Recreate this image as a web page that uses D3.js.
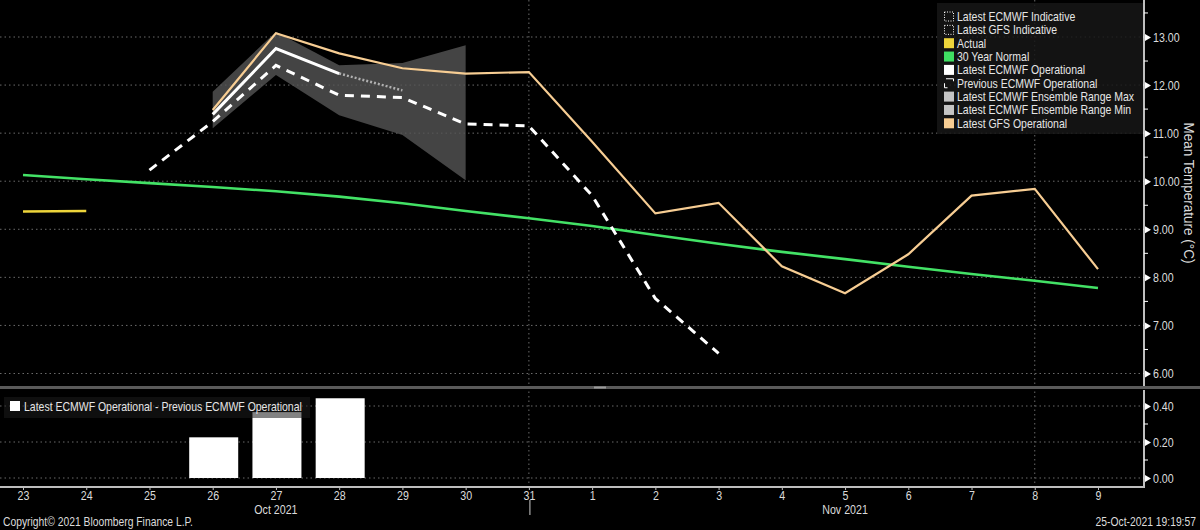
<!DOCTYPE html>
<html>
<head>
<meta charset="utf-8">
<script src="https://cdn.jsdelivr.net/npm/d3@7"></script>
<style>
  html, body { margin: 0; padding: 0; background: #000; }
  svg { display: block; font-family: "Liberation Sans", Arial, sans-serif; }
</style>
</head>
<body>
<svg id="chart" width="1200" height="530"></svg>
<script>
// ---------------- DATA ----------------
const days = ["23","24","25","26","27","28","29","30","31","1","2","3","4","5","6","7","8","9"];
const actual          = [9.37, 9.38, null, null, null, null, null, null, null, null, null, null, null, null, null, null, null, null];
const normal30        = [10.13, 10.04, 9.96, 9.88, 9.79, 9.68, 9.54, 9.38, 9.23, 9.07, 8.88, 8.70, 8.53, 8.38, 8.22, 8.07, 7.93, 7.78];
const ecmwfLatest     = [null, null, null, 11.39, 12.76, 12.24, null, null, null, null, null, null, null, null, null, null, null, null];
const ecmwfIndicative = [null, null, null, null, null, 12.24, 11.89, null, null, null, null, null, null, null, null, null, null, null];
const ecmwfPrevious   = [null, null, 10.23, 11.24, 12.41, 11.79, 11.74, 11.19, 11.15, 9.70, 7.56, 6.42, null, null, null, null, null, null];
const ensembleMax     = [null, null, null, 11.86, 13.11, 12.41, 12.46, 12.83, null, null, null, null, null, null, null, null, null, null];
const ensembleMin     = [null, null, null, 11.10, 12.21, 11.37, 10.96, 10.02, null, null, null, null, null, null, null, null, null, null];
const gfsLatest       = [null, null, null, 11.48, 13.08, 12.66, 12.35, 12.24, 12.27, 10.82, 9.33, 9.55, 8.23, 7.67, 8.48, 9.70, 9.84, 8.17];
const ecmwfDiff       = [null, null, null, 0.226, 0.366, 0.443, null, null, null, null, null, null, null, null, null, null, null, null];

const tempTicks  = [6, 7, 8, 9, 10, 11, 12, 13];
const tempMinor  = [6.5, 7.5, 8.5, 9.5, 10.5, 11.5, 12.5, 13.5];
const diffTicks  = [0, 0.2, 0.4];
const diffMinor  = [0.1, 0.3];
const vGridDays  = ["31", "8"];
const months     = [{label: "Oct 2021", at: "27"}, {label: "Nov 2021", at: "5"}];

const legendNames = ["Latest ECMWF Indicative", "Latest GFS Indicative", "Actual", "30 Year Normal",
  "Latest ECMWF Operational", "Previous ECMWF Operational", "Latest ECMWF Ensemble Range Max",
  "Latest ECMWF Ensemble Range Min", "Latest GFS Operational"];
const legendKinds = ["dotted", "dotted", "fill", "fill", "fill", "dashed", "fill", "fill", "fill"];
const legendColors = ["#ffffff", "#ffffff", "#eed53b", "#3fdf62", "#ffffff", "#ffffff", "#c4c4c4", "#c4c4c4", "#f7cd93"];

// ---------------- LAYOUT ----------------
const svg = d3.select("#chart");
const W = 1200, H = 530;
const axisX = 1144;
const topY0 = 0, topY1 = 386;
const botY0 = 390, botY1 = 487;
const FS = 13;
const NARROW = 0.82;

// squeeze text horizontally (about its anchor) to mimic the narrow terminal font
function condense(sel, ratio) {
  sel.each(function() {
    const X = +(this.getAttribute("x") || 0);
    const prev = this.getAttribute("transform") || "";
    d3.select(this).attr("transform", `${prev} translate(${X},0) scale(${ratio},1) translate(${-X},0)`.trim());
  });
}

svg.append("rect").attr("width", W).attr("height", H).attr("fill", "#000");

const x = d3.scalePoint().domain(days).range([23, 1098]);
const yT = d3.scaleLinear().domain([6, 13]).range([373.5, 37]);
const yB = d3.scaleLinear().domain([0, 0.4]).range([478, 406]);

function series(arr) { return arr.map((v, i) => ({d: days[i], v})); }

// ---------- gridlines ----------
const grid = svg.append("g");
grid.selectAll(".hgT").data(tempTicks).join("line")
  .attr("x1", 0).attr("x2", axisX).attr("y1", d => yT(d)).attr("y2", d => yT(d))
  .attr("stroke", "#6a6a6a").attr("stroke-width", 1).attr("stroke-dasharray", "1.5,3");
grid.selectAll(".hgB").data(diffTicks).join("line")
  .attr("x1", 0).attr("x2", axisX).attr("y1", d => yB(d)).attr("y2", d => yB(d))
  .attr("stroke", "#6a6a6a").attr("stroke-width", 1).attr("stroke-dasharray", "1.5,3");
grid.selectAll(".vg").data(vGridDays).join("line")
  .attr("x1", d => x(d)).attr("x2", d => x(d)).attr("y1", 0).attr("y2", botY1)
  .attr("stroke", "#6a6a6a").attr("stroke-width", 1).attr("stroke-dasharray", "1.5,3");

// ---------- top panel marks ----------
const topG = svg.append("g");
const area = d3.area()
  .defined(d => d.hi != null && d.lo != null)
  .x(d => x(d.d)).y0(d => yT(d.lo)).y1(d => yT(d.hi));
topG.append("path")
  .datum(days.map((d, i) => ({d, hi: ensembleMax[i], lo: ensembleMin[i]})))
  .attr("d", area).attr("fill", "#555555").attr("fill-opacity", 0.8);

const line = d3.line().defined(d => d.v != null).x(d => x(d.d)).y(d => yT(d.v));
function drawLine(arr, color, width, dash) {
  topG.append("path").datum(series(arr)).attr("d", line)
    .attr("fill", "none").attr("stroke", color).attr("stroke-width", width)
    .attr("stroke-dasharray", dash || null).attr("stroke-linejoin", "miter");
}
drawLine(normal30, "#43e266", 2.6);
drawLine(actual, "#eed53b", 2.5);
drawLine(ecmwfPrevious, "#ffffff", 3, "9,7");
drawLine(ecmwfIndicative, "#b0b0b0", 2.5, "2,2");
drawLine(ecmwfLatest, "#ffffff", 3);
drawLine(gfsLatest, "#f7cd93", 2.2);

// ---------- bottom panel bars ----------
const barW = 49;
svg.append("g").selectAll("rect").data(series(ecmwfDiff).filter(d => d.v != null)).join("rect")
  .attr("x", d => x(d.d) - barW / 2 + 1).attr("width", barW)
  .attr("y", d => yB(d.v)).attr("height", d => yB(0) - yB(d.v))
  .attr("fill", "#ffffff");

// ---------- panel divider ----------
svg.append("rect").attr("x", 0).attr("y", topY1).attr("width", W).attr("height", 3).attr("fill", "#5a5a5a");
svg.append("rect").attr("x", 594).attr("y", topY1 + 0.5).attr("width", 12).attr("height", 2).attr("fill", "#9a9a9a");

// ---------- right axes ----------
function rightAxis(scale, ticks, minor, fmt, yA, yB2) {
  const g = svg.append("g").attr("transform", `translate(${axisX},0)`);
  const ax = d3.axisRight(scale).tickValues(ticks).tickFormat(fmt).tickSize(0).tickPadding(9);
  g.call(ax);
  g.select(".domain").remove();
  g.selectAll("text").attr("fill", "#dcdcdc").attr("font-size", FS).attr("font-family", null);
  condense(g.selectAll("text"), NARROW);
  g.selectAll(".tick").append("path").attr("d", "M1,-3.5L7,0L1,3.5Z").attr("fill", "#ffffff");
  g.selectAll(".mt").data(minor).join("line")
    .attr("x1", 0).attr("x2", 4).attr("y1", d => scale(d)).attr("y2", d => scale(d))
    .attr("stroke", "#ffffff").attr("stroke-width", 1);
  g.append("line").attr("x1", 0).attr("x2", 0).attr("y1", yA).attr("y2", yB2)
    .attr("stroke", "#ffffff").attr("stroke-width", 1.5);
}
rightAxis(yT, tempTicks, tempMinor, d3.format(".2f"), topY0, topY1);
rightAxis(yB, diffTicks, diffMinor, d3.format(".2f"), botY0, botY1 + 1);

svg.append("text")
  .attr("transform", `translate(1184,193) rotate(90) scale(0.9,1)`)
  .attr("text-anchor", "middle").attr("fill", "#dcdcdc").attr("font-size", 15)
  .text("Mean Temperature (°C)");

// ---------- x axis ----------
const xg = svg.append("g").attr("transform", `translate(0,${botY1})`);
xg.call(d3.axisBottom(x).tickSize(3).tickPadding(1));
xg.select(".domain").remove();
xg.append("line").attr("x1", 0).attr("x2", axisX).attr("y1", 0).attr("y2", 0)
  .attr("stroke", "#bdbdbd").attr("stroke-width", 2);
xg.selectAll(".tick line").attr("stroke", "#bdbdbd");
xg.selectAll("text").attr("fill", "#dcdcdc").attr("font-size", FS).attr("font-family", null);
condense(xg.selectAll("text"), NARROW);

svg.selectAll(".month").data(months).join("text")
  .attr("x", d => x(d.at)).attr("y", 514).attr("text-anchor", "middle")
  .attr("fill", "#dcdcdc").attr("font-size", FS).text(d => d.label)
  .call(condense, NARROW);
svg.append("line").attr("x1", x("31") + 1).attr("x2", x("31") + 1).attr("y1", 500).attr("y2", 515)
  .attr("stroke", "#8a8a8a").attr("stroke-width", 1.5);

svg.append("text").attr("x", 3).attr("y", 526).attr("fill", "#dcdcdc").attr("font-size", 12.6)
  .text("Copyright© 2021 Bloomberg Finance L.P.").call(condense, NARROW);
svg.append("text").attr("x", 1196).attr("y", 526).attr("text-anchor", "end").attr("fill", "#dcdcdc").attr("font-size", 12.6)
  .text("25-Oct-2021 19:19:57").call(condense, NARROW);

// ---------- top legend ----------
const lg = svg.append("g");
lg.append("rect").attr("x", 937).attr("y", 3).attr("width", 206).attr("height", 131)
  .attr("fill", "#161616").attr("fill-opacity", 0.85);
const rowY = i => 16.5 + i * 13.35;
legendNames.forEach((name, i) => {
  const cy = rowY(i);
  const k = legendKinds[i];
  if (k === "fill") {
    lg.append("rect").attr("x", 944).attr("y", cy - 5).attr("width", 10).attr("height", 10).attr("fill", legendColors[i]);
  } else if (k === "dotted") {
    lg.append("rect").attr("x", 944.5).attr("y", cy - 4.5).attr("width", 9).attr("height", 9)
      .attr("fill", "none").attr("stroke", "#ffffff").attr("stroke-width", 1).attr("stroke-dasharray", "1,1.5");
  } else {
    lg.append("path").attr("d", `M946,${cy - 4.5}H953.5V${cy - 2}M944.5,${cy}V${cy + 4.5}H947.5`)
      .attr("fill", "none").attr("stroke", "#ffffff").attr("stroke-width", 1);
  }
  lg.append("text").attr("x", 957).attr("y", cy).attr("dy", "0.35em")
    .attr("fill", "#e6e6e6").attr("font-size", 12.8).text(name).call(condense, NARROW);
});

// ---------- bottom legend ----------
const bl = svg.append("g");
bl.append("rect").attr("x", 4).attr("y", 397).attr("width", 306).attr("height", 21)
  .attr("fill", "#1c1c1c").attr("fill-opacity", 0.55);
bl.append("rect").attr("x", 10).attr("y", 401).attr("width", 10).attr("height", 10).attr("fill", "#ffffff");
bl.append("text").attr("x", 24).attr("y", 406.5).attr("dy", "0.35em").attr("fill", "#e6e6e6").attr("font-size", 12.8)
  .text("Latest ECMWF Operational - Previous ECMWF Operational").call(condense, NARROW);
</script>
</body>
</html>
